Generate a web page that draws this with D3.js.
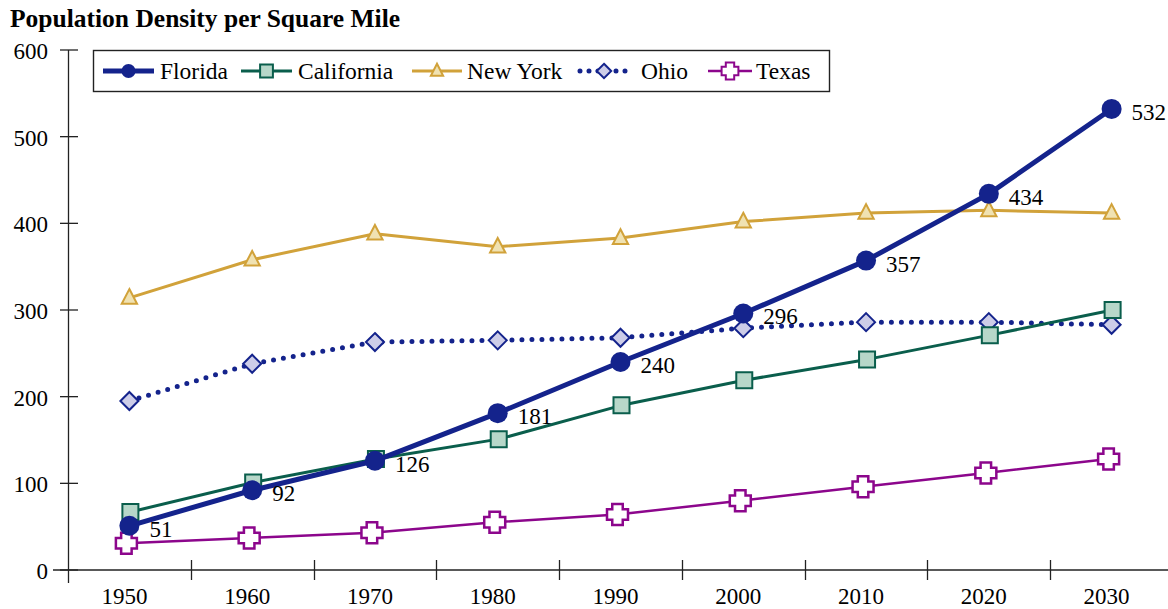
<!DOCTYPE html>
<html>
<head>
<meta charset="utf-8">
<style>
  body { margin: 0; background: #fff; }
  svg text { font-family: "Liberation Serif", "DejaVu Serif", serif; fill: #000; }
  .title { font-weight: bold; font-size: 25.5px; }
  .tick-label { font-size: 23px; }
  .legend text { font-size: 23.5px; }
  .val { font-size: 23px; }
  .axis-line { stroke: #222; stroke-width: 1.3px; fill: none; }
</style>
</head>
<body>
<div id="chart"></div>
<script src="https://cdnjs.cloudflare.com/ajax/libs/d3/7.8.5/d3.min.js"></script>
<script>
  // data
  var years = [1950, 1960, 1970, 1980, 1990, 2000, 2010, 2020, 2030];
  var florida = [51, 92, 126, 181, 240, 296, 357, 434, 532];
  var california = [67, 101, 128, 151, 190, 219, 243, 271, 300];
  var newYork = [314, 358, 388, 373, 383, 402, 412, 415, 412];
  var ohio = [195, 238, 263, 265, 268, 279, 286, 286, 283];
  var texas = [31, 37, 43, 55, 64, 80, 96, 112, 128];
  var yTicks = [0, 100, 200, 300, 400, 500, 600];
  var seriesNames = ["Florida", "California", "New York", "Ohio", "Texas"];

  var width = 1168, height = 609;

  var svg = d3.select("#chart").append("svg")
    .attr("width", width)
    .attr("height", height);

  var xBand = d3.scaleBand().domain(years).range([68, 1173]);
  var x = function (d) { return xBand(d) + xBand.bandwidth() / 2; };
  var y = d3.scaleLinear().domain([0, 600]).range([570, 50]);

  // styles for each series (same order as seriesNames)
  var styles = [
    { values: florida, color: "#14238c", width: 5, marker: "circle", size: 10, fill: "#14238c", dash: null, dx: 0 },
    { values: california, color: "#0a5e4c", width: 3, marker: "square", size: 8, fill: "#b7d7c9", dash: null, dx: 1 },
    { values: newYork, color: "#d1a23a", width: 3, marker: "triangle", size: 9, fill: "#f0e2b2", dash: null, dx: 0 },
    { values: ohio, color: "#14238c", width: 5, marker: "diamond", size: 9, fill: "#cdcde8", dash: "0 10", dx: 0 },
    { values: texas, color: "#8c068c", width: 2.5, marker: "plus", size: 10.5, fill: "#fff", dash: null, dx: -3 }
  ];

  function markerPath(type, s) {
    if (type === "circle") {
      return "M" + (-s) + ",0A" + s + "," + s + " 0 1,1 " + s + ",0A" + s + "," + s + " 0 1,1 " + (-s) + ",0Z";
    }
    if (type === "square") {
      return "M" + (-s) + "," + (-s) + "H" + s + "V" + s + "H" + (-s) + "Z";
    }
    if (type === "triangle") {
      var h = s * 0.866;
      return "M0," + (-h - 1) + "L" + (s * 0.85) + "," + (h * 0.75) + "H" + (-s * 0.85) + "Z";
    }
    if (type === "diamond") {
      return "M0," + (-s) + "L" + s + ",0L0," + s + "L" + (-s) + ",0Z";
    }
    // plus with thick arms
    var a = s * 0.5;
    return "M" + (-a) + "," + (-s) + "H" + a + "V" + (-a) + "H" + s + "V" + a + "H" + a + "V" + s +
      "H" + (-a) + "V" + a + "H" + (-s) + "V" + (-a) + "H" + (-a) + "Z";
  }

  // title
  svg.append("text")
    .attr("class", "title")
    .attr("x", 10)
    .attr("y", 27)
    .text("Population Density per Square Mile");

  // axes
  svg.append("line").attr("class", "axis-line")
    .attr("x1", 68.5).attr("x2", 68.5).attr("y1", 50).attr("y2", 583);
  svg.append("line").attr("class", "axis-line")
    .attr("x1", 53).attr("x2", width).attr("y1", y(0)).attr("y2", y(0));

  var yAxis = svg.append("g");
  yAxis.selectAll("line.tk").data(yTicks).enter().append("line")
    .attr("class", "axis-line")
    .attr("x1", 60).attr("x2", 78)
    .attr("y1", function (d) { return y(d); })
    .attr("y2", function (d) { return y(d); });
  yAxis.selectAll("text").data(yTicks).enter().append("text")
    .attr("class", "tick-label")
    .attr("x", 48)
    .attr("y", function (d) { return y(d) + 9; })
    .attr("text-anchor", "end")
    .text(function (d) { return d; });

  var xAxis = svg.append("g");
  xAxis.selectAll("line").data(years.slice(1)).enter().append("line")
    .attr("class", "axis-line")
    .attr("x1", function (d) { return Math.round(xBand(d)) + 0.5; })
    .attr("x2", function (d) { return Math.round(xBand(d)) + 0.5; })
    .attr("y1", 560).attr("y2", 580);
  xAxis.selectAll("text").data(years).enter().append("text")
    .attr("class", "tick-label")
    .attr("x", function (d) { return x(d) - 5; })
    .attr("y", 604)
    .attr("text-anchor", "middle")
    .text(function (d) { return d; });

  // series, Florida drawn last so it sits on top
  var drawOrder = [4, 3, 2, 1, 0];
  var line = d3.line();

  drawOrder.forEach(function (i) {
    var st = styles[i];
    var pts = years.map(function (yr, k) { return [x(yr) + st.dx, y(st.values[k])]; });
    var g = svg.append("g");
    g.append("path")
      .attr("d", line(pts))
      .attr("fill", "none")
      .attr("stroke", st.color)
      .attr("stroke-width", st.width)
      .attr("stroke-linecap", st.dash ? "round" : "butt")
      .attr("stroke-linejoin", "round")
      .attr("stroke-dasharray", st.dash);
    g.selectAll("path.mk").data(pts).enter().append("path")
      .attr("class", "mk")
      .attr("d", markerPath(st.marker, st.size))
      .attr("transform", function (p) { return "translate(" + p[0] + "," + p[1] + ")"; })
      .attr("fill", st.fill)
      .attr("stroke", st.color)
      .attr("stroke-width", st.marker === "circle" ? 0 : (st.marker === "plus" ? 2.5 : 2));
  });

  // value labels on Florida
  svg.append("g").selectAll("text").data(florida).enter().append("text")
    .attr("class", "val")
    .attr("x", function (d, k) { return x(years[k]) + 20; })
    .attr("y", function (d) { return y(d) + 11; })
    .text(function (d) { return d; });

  // legend
  var legendX = [103, 241, 412, 580, 708];
  var legendW = [51, 51, 50, 48, 44];
  var legendTextX = [160, 298, 467, 641, 756];
  var legend = svg.append("g").attr("class", "legend");
  legend.append("rect")
    .attr("x", 93.5).attr("y", 50.5)
    .attr("width", 736).attr("height", 41)
    .attr("fill", "#fff")
    .attr("stroke", "#222")
    .attr("stroke-width", 1.4);

  seriesNames.forEach(function (name, i) {
    var st = styles[i];
    var ly = 71;
    var x0 = legendX[i], x1 = legendX[i] + legendW[i];
    legend.append("line")
      .attr("x1", x0).attr("x2", x1).attr("y1", ly).attr("y2", ly)
      .attr("stroke", st.color)
      .attr("stroke-width", st.width)
      .attr("stroke-linecap", st.dash ? "round" : "butt")
      .attr("stroke-dasharray", st.dash ? "0 9" : null);
    legend.append("path")
      .attr("d", markerPath(st.marker, st.marker === "circle" ? 7 : st.size * 0.8))
      .attr("transform", "translate(" + ((x0 + x1) / 2) + "," + ly + ")")
      .attr("fill", st.fill)
      .attr("stroke", st.color)
      .attr("stroke-width", st.marker === "circle" ? 0 : 2);
    legend.append("text")
      .attr("x", legendTextX[i])
      .attr("y", 79)
      .text(name);
  });
</script>
</body>
</html>
